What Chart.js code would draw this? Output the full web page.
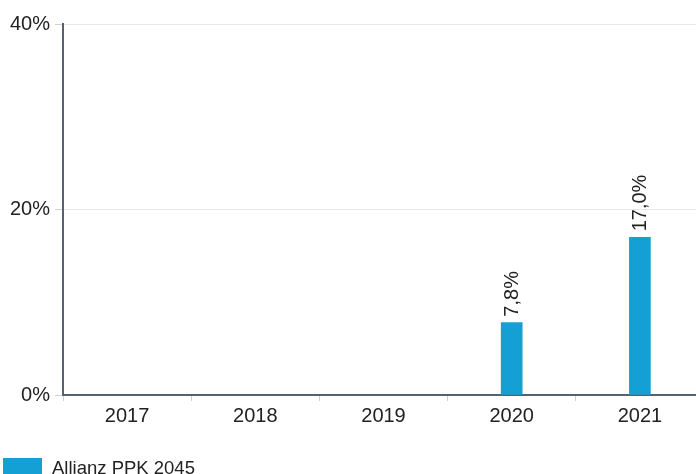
<!DOCTYPE html>
<html><head><meta charset="utf-8">
<script src="https://cdn.jsdelivr.net/npm/chart.js@4"></script>
<style>
html,body{margin:0;padding:0;background:#fff;overflow:hidden;}
#wrap{position:relative;width:704px;height:474px;}
#legend{position:absolute;left:3px;top:457px;display:flex;align-items:center;font-family:"Liberation Sans",Arial,sans-serif;font-size:18.5px;color:#222;white-space:nowrap;}
#legend .box{width:39px;height:20px;background:#14a0d4;margin-right:10px;}
</style></head>
<body>
<div id="wrap"><canvas id="c"></canvas>
<div id="legend"><span class="box"></span><span id="legtxt"></span></div></div>
<script>
const categories = ["2017","2018","2019","2020","2021"];
const seriesName = "Allianz PPK 2045";
const seriesValues = [null, null, null, 7.8, 17.0];
const yTicks = [0, 20, 40];
document.getElementById('legtxt').textContent = seriesName;

const FONT = '"Liberation Sans", Arial, sans-serif';

const labelPlugin = {
  id: 'barLabels',
  afterDatasetsDraw(chart) {
    const ctx = chart.ctx;
    const meta = chart.getDatasetMeta(0);
    ctx.save();
    ctx.font = '20px ' + FONT;
    ctx.fillStyle = '#222';
    ctx.textAlign = 'left';
    ctx.textBaseline = 'middle';
    meta.data.forEach((bar, i) => {
      const v = seriesValues[i];
      if (v === null || v === undefined) return;
      ctx.save();
      ctx.translate(bar.x + 1, bar.y - 6);
      ctx.rotate(-Math.PI / 2);
      ctx.fillText(v.toFixed(1).replace('.', ',') + '%', 0, 0);
      ctx.restore();
    });
    ctx.restore();
  }
};

new Chart(document.getElementById('c'), {
  type: 'bar',
  data: {
    labels: categories,
    datasets: [{
      label: seriesName,
      data: seriesValues,
      backgroundColor: '#14a0d4',
      borderWidth: 0,
      barThickness: 21
    }]
  },
  options: {
    responsive: true,
    maintainAspectRatio: false,
    animation: false,
    layout: { padding: { left: 0, right: 0, top: 24, bottom: 39 } },
    plugins: {
      legend: { display: false },
      tooltip: { enabled: false }
    },
    scales: {
      x: {
        offset: true,
        afterFit(axis) { axis.height = 40; },
        grid: { display: true, drawOnChartArea: false, offset: true, tickLength: 6, color: '#d0d0d0' },
        border: { color: '#56636f', width: 2 },
        ticks: { color: '#222', padding: 3, font: { family: FONT, size: 20 } }
      },
      y: {
        min: 0, max: 40,
        afterBuildTicks(axis) { axis.ticks = yTicks.map(v => ({ value: v })); },
        afterFit(axis) { axis.width = 63; },
        grid: { color: '#e8e8e8', tickLength: 8, tickColor: '#d0d0d0' },
        border: { color: '#56636f', width: 2 },
        ticks: {
          color: '#222', padding: 5,
          font: { family: FONT, size: 20 },
          callback: v => v + '%'
        }
      }
    }
  },
  plugins: [labelPlugin]
});
</script>
</body></html>
